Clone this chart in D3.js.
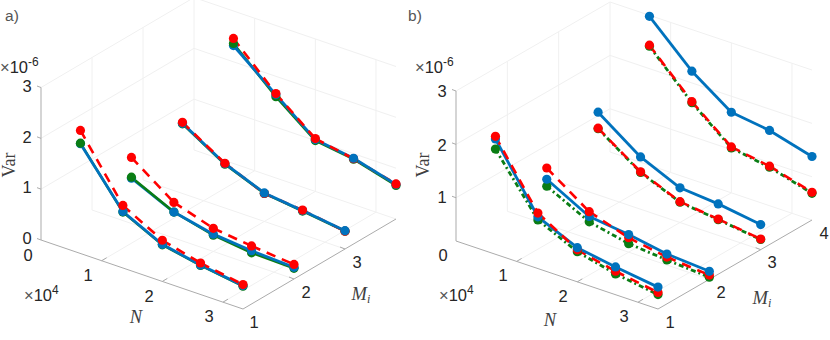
<!DOCTYPE html>
<html>
<head>
<meta charset="utf-8">
<script src="https://cdn.jsdelivr.net/npm/d3@7"></script>
<style>
  html, body { margin: 0; padding: 0; background: #fff; }
  svg { display: block; }
  text { font-family: "Liberation Sans", sans-serif; fill: #262626; }
  .math { font-family: "Liberation Serif", serif; fill: #404040; }
</style>
</head>
<body>
<div id="chart"></div>
<script>
// sample sizes, x 10^4
const sizes = [0.65, 1.35, 2.0, 2.63, 3.33];
const miValues = [1, 2, 3, 4];
const nTicks = [1, 2, 3];
const varTicks = [1, 2, 3];

// one row per Mi, values x 10^-6
const blueA = [
  [2.16, 1.11, 0.73, 0.58, 0.46],
  [0.89, 0.51, 0.34, 0.27, 0.23],
  [1.38, 0.87, 0.56, 0.47, 0.36],
  [2.32, 1.64, 1.02, 0.91, 0.68]
];
const redA = [
  [2.42, 1.23, 0.81, 0.62, 0.48],
  [1.3, 0.7, 0.455, 0.365, 0.286],
  [1.4, 0.88, 0.55, 0.48, 0.35],
  [2.46, 1.66, 1.04, 0.9, 0.69]
];
const greenA = [
  [2.17, 1.1, 0.72, 0.57, 0.45],
  [0.91, 0.51, 0.32, 0.23, 0.21],
  [1.37, 0.86, 0.55, 0.46, 0.35],
  [2.36, 1.6, 1.0, 0.89, 0.66]
];

const blueB = [
  [2.35, 1.16, 0.83, 0.71, 0.6],
  [1.04, 0.61, 0.52, 0.396, 0.34],
  [1.74, 1.17, 0.84, 0.78, 0.66],
  [2.98, 2.22, 1.7, 1.6, 1.38]
];
const redB = [
  [2.4, 1.23, 0.79, 0.63, 0.5],
  [1.25, 0.7, 0.46, 0.34, 0.27],
  [1.44, 0.89, 0.58, 0.495, 0.39],
  [2.44, 1.65, 1.05, 0.93, 0.71]
];
const greenB = [
  [2.16, 1.1, 0.755, 0.58, 0.46],
  [0.91, 0.51, 0.35, 0.285, 0.23],
  [1.43, 0.88, 0.57, 0.485, 0.38],
  [2.42, 1.63, 1.03, 0.91, 0.69]
];

const blue = "#0072BD", red = "#FF0000", green = "#0A7D14";
const axisColor = "#ABABAB", gridColor = "#F0F0F0";

const svg = d3.select("#chart").append("svg").attr("width", 830).attr("height", 340);

function drawPanel(p) {
  const g = svg.append("g");
  const nX = d3.scaleLinear().domain([0, p.nMax]).range([0, p.nLen[0]]);
  const nY = d3.scaleLinear().domain([0, p.nMax]).range([0, p.nLen[1]]);
  const mX = d3.scaleLinear().domain([1, 4]).range([0, p.mLen[0]]);
  const mY = d3.scaleLinear().domain([1, 4]).range([0, p.mLen[1]]);
  const vY = d3.scaleLinear().domain([p.vMin, 3]).range([0, p.vLen]);
  const px = (n, m) => p.ox + nX(n) + mX(m);
  const py = (n, m, v) => p.oy + nY(n) - mY(m) - vY(v);

  const seg = (a, b, color, w) =>
    g.append("line")
      .attr("x1", a[0]).attr("y1", a[1])
      .attr("x2", b[0]).attr("y2", b[1])
      .attr("stroke", color).attr("stroke-width", w);
  const pt = (n, m, v) => [px(n, m), py(n, m, v)];

  // grid on floor and the two back walls
  nTicks.forEach((n) => {
    seg(pt(n, 1, p.vMin), pt(n, 4, p.vMin), gridColor, 1);
    seg(pt(n, 4, p.vMin), pt(n, 4, 3), gridColor, 1);
  });
  miValues.slice(1).forEach((m) => {
    seg(pt(0, m, p.vMin), pt(p.nMax, m, p.vMin), gridColor, 1);
    seg(pt(0, m, p.vMin), pt(0, m, 3), gridColor, 1);
  });
  varTicks.forEach((v) => {
    seg(pt(0, 1, v), pt(0, 4, v), gridColor, 1);
    seg(pt(0, 4, v), pt(p.nMax, 4, v), gridColor, 1);
  });

  // box edges
  seg(pt(0, 1, p.vMin), pt(0, 1, 3), axisColor, 1);
  seg(pt(0, 1, p.vMin), pt(p.nMax, 1, p.vMin), axisColor, 1);
  seg(pt(p.nMax, 1, p.vMin), pt(p.nMax, 4, p.vMin), axisColor, 1);

  // ticks
  varTicks.concat(p.vMin === 0 ? [0] : []).forEach((v) => {
    const a = pt(0, 1, v);
    seg(a, [a[0] - 4, a[1] - 1.5], axisColor, 1);
  });
  nTicks.forEach((n) => {
    const a = pt(n, 1, p.vMin);
    seg(a, [a[0] + 5, a[1] - 3], axisColor, 1);
  });
  miValues.slice(1, 3).forEach((m) => {
    const a = pt(p.nMax, m, p.vMin);
    seg(a, [a[0] - 5, a[1] - 2], axisColor, 1);
  });

  // lines, lower values first so the higher one ends on top
  const series = [
    { values: p.green, color: green, width: p.greenWidth, dash: p.greenDash },
    { values: p.red, color: red, width: 2.6, dash: "9.5 7" },
    { values: p.blue, color: blue, width: 2.8, dash: null }
  ];
  miValues.forEach((m, mi) => {
    const segments = [];
    series.forEach((s, si) => {
      d3.pairs(sizes.map((n, i) => ({ n, v: s.values[mi][i] }))).forEach((pair) => {
        segments.push({ a: pair[0], b: pair[1], s, si });
      });
    });
    segments.sort((x, y) => (x.a.v + x.b.v) - (y.a.v + y.b.v));
    segments.forEach((d) => {
      seg(pt(d.a.n, m, d.a.v), pt(d.b.n, m, d.b.v), d.s.color, d.s.width)
        .attr("stroke-dasharray", d.s.dash);
    });

    const dots = [];
    series.forEach((s) => {
      sizes.forEach((n, i) => dots.push({ n, v: s.values[mi][i], color: s.color }));
    });
    dots.sort((x, y) => x.v - y.v);
    g.append("g")
      .selectAll("circle")
      .data(dots)
      .join("circle")
      .attr("cx", (d) => px(d.n, m))
      .attr("cy", (d) => py(d.n, m, d.v))
      .attr("r", 4.6)
      .attr("fill", (d) => d.color);
  });

  // labels
  const label = (x, y, txt, size, cls) =>
    g.append("text")
      .attr("x", x).attr("y", y)
      .attr("text-anchor", "middle")
      .attr("dominant-baseline", "central")
      .attr("font-size", size)
      .attr("class", cls || null)
      .text(txt);

  label(p.title[0], p.title[1], p.titleText, 15.5).style("fill", "#555");

  p.varLabels.forEach((d) => label(d[0], d[1], d[2], 16.5));
  p.nLabels.forEach((d) => label(d[0], d[1], d[2], 16.5));
  p.miLabels.forEach((d) => label(d[0], d[1], d[2], 16.5));

  // exponents
  const exp = (x, y, base, power) => {
    const t = g.append("text").attr("x", x).attr("y", y).attr("font-size", 16.5);
    t.append("tspan").text("\u00D7").style("fill", "#555");
    t.append("tspan").text(base);
    t.append("tspan").attr("dy", -7).attr("font-size", 12).text(power);
  };
  exp(p.expV[0], p.expV[1], "10", "-6");
  exp(p.expN[0], p.expN[1], "10", "4");

  g.append("text")
    .attr("class", "math")
    .attr("transform", "translate(" + p.varPos[0] + "," + p.varPos[1] + ") rotate(-90)")
    .attr("text-anchor", "middle")
    .attr("font-size", 18)
    .text("Var");

  label(p.nPos[0], p.nPos[1], "N", 18.5, "math").attr("font-style", "italic");
  const mi = g.append("text")
    .attr("class", "math")
    .attr("x", p.miPos[0]).attr("y", p.miPos[1])
    .attr("text-anchor", "middle")
    .attr("font-size", 18.5)
    .attr("font-style", "italic");
  mi.append("tspan").text("M");
  mi.append("tspan").attr("dy", 3).attr("font-size", 12).text("i");
}

drawPanel({
  ox: 41, oy: 240, nMax: 3.33, nLen: [202, 69], mLen: [153, 90], vMin: 0, vLen: 152.5,
  blue: blueA, red: redA, green: greenA, greenDash: null, greenWidth: 2.4,
  titleText: "a)", title: [12, 15],
  varLabels: [[27, 86, "3"], [27, 137, "2"], [27, 187, "1"], [27, 238, "0"]],
  nLabels: [[28, 255, "0"], [88, 275, "1"], [149, 296, "2"], [209, 316, "3"]],
  miLabels: [[254, 322, "1"], [306, 292, "2"], [357, 262, "3"]],
  expV: [0, 73], expN: [24, 301],
  varPos: [15, 165], nPos: [136, 317], miPos: [361, 300]
});

drawPanel({
  ox: 456, oy: 241, nMax: 3.33, nLen: [202, 68], mLen: [154, 89], vMin: 0.19, vLen: 150,
  blue: blueB, red: redB, green: greenB, greenDash: "5 3 2 3", greenWidth: 2.8,
  titleText: "b)", title: [415, 15],
  varLabels: [[442, 91, "3"], [442, 145, "2"], [442, 197, "1"]],
  nLabels: [[443, 255, "0"], [503, 275, "1"], [563, 296, "2"], [624, 316, "3"]],
  miLabels: [[670, 322, "1"], [721, 292, "2"], [772, 262, "3"], [824, 233, "4"]],
  expV: [415, 73], expN: [439, 301],
  varPos: [429, 165], nPos: [550, 320], miPos: [762, 304]
});
</script>
</body>
</html>
